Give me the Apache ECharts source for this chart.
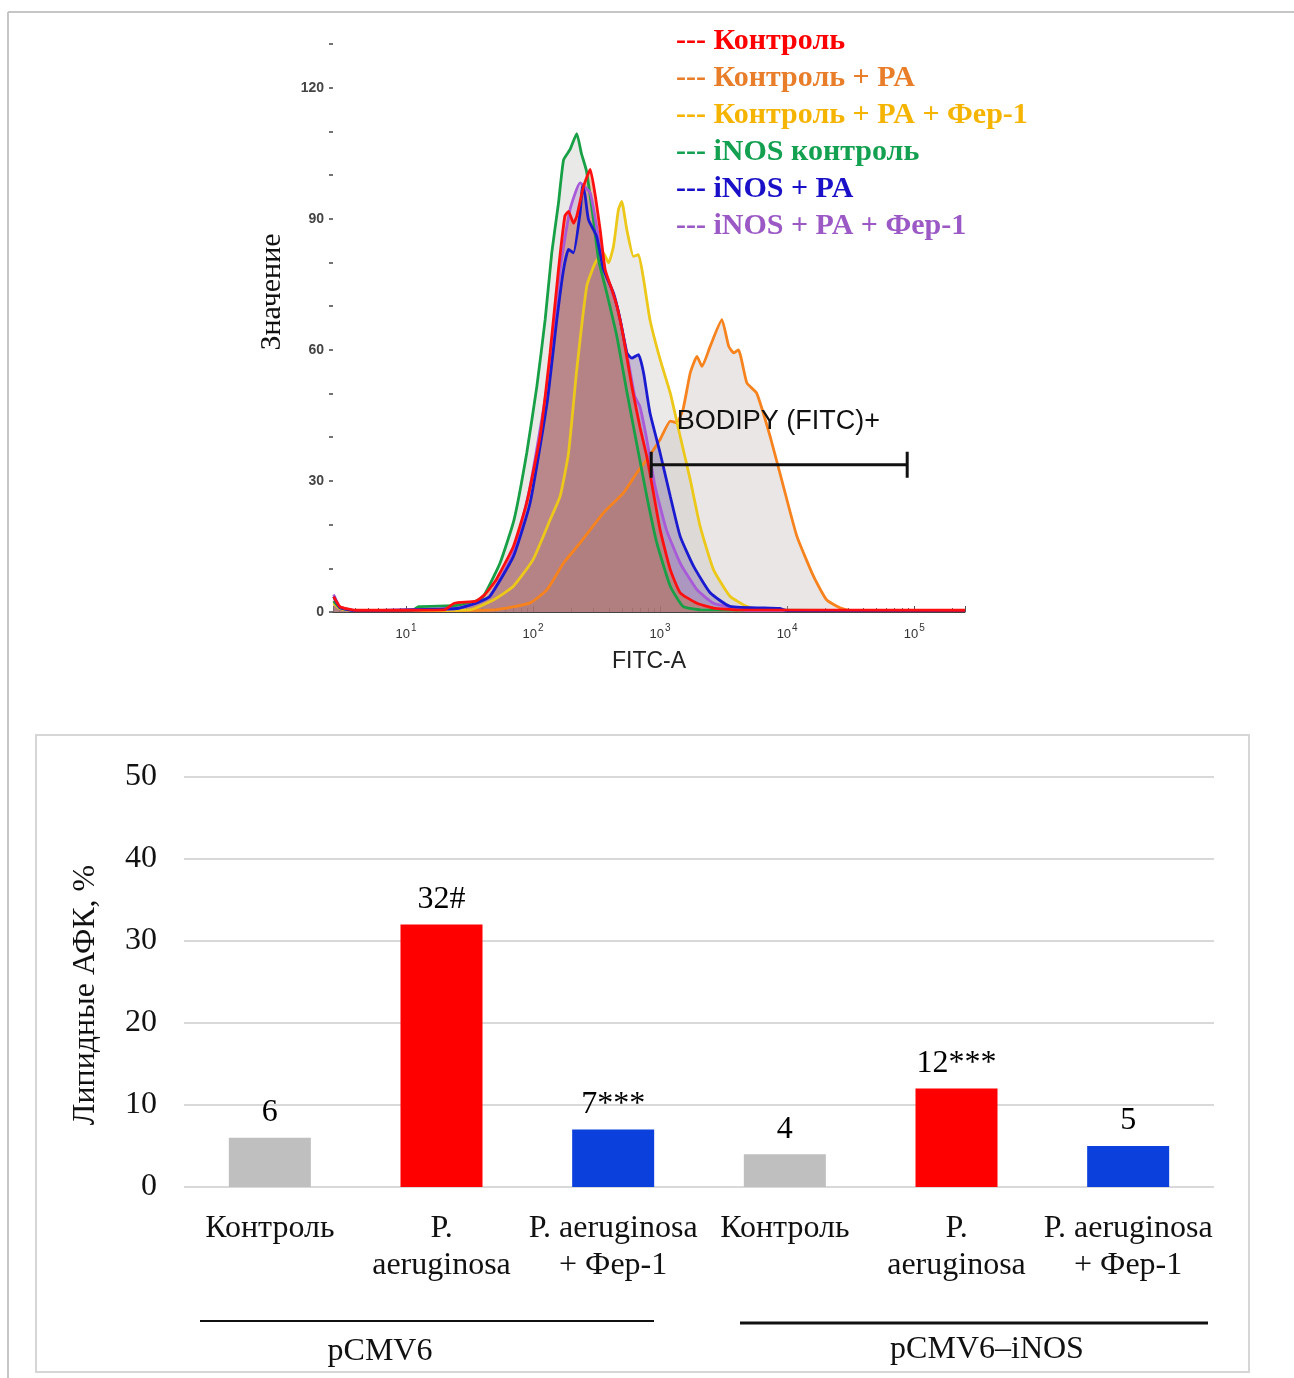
<!DOCTYPE html>
<html><head><meta charset="utf-8">
<script src="https://cdn.jsdelivr.net/npm/echarts@6/dist/echarts.min.js"></script>
<style>html,body{margin:0;padding:0;background:#fff}#c{width:1294px;height:1378px}</style>
</head><body><div id="c"></div>
<script>
// ---------- Histogram data (x as log10 exponent of FITC-A, y = count) ----------
const curveNames = ['Контроль', 'Контроль + PA', 'Контроль + PA + Фер-1', 'iNOS контроль', 'iNOS + PA', 'iNOS + PA + Фер-1'];
const curveLegendColors = ['#ff0000', '#e87d2a', '#f5b400', '#13a050', '#1a10c8', '#9b59c6'];
const curveLineColors = ['#ff1010', '#f7831f', '#ecc81a', '#17a046', '#1a1ad0', '#a85ad8'];
const curveFillColors = ['rgba(200,100,40,0.55)', 'rgba(195,185,182,0.5)', 'rgba(195,190,185,0.45)', 'rgba(185,185,180,0.45)', 'rgba(85,60,150,0.38)', 'rgba(150,95,185,0.38)'];

const controlCurve = [[0.43,3.5],[0.48,1.2],[0.6,0.4],[1.3,0.5],[1.38,2],[1.55,2.5],[1.62,4],[1.71,7.4],[1.845,15],[1.95,25],[2.055,40.2],[2.134,59.3],[2.20,78.4],[2.25,90.6],[2.279,91.7],[2.318,89],[2.344,90.6],[2.397,97.4],[2.45,101.3],[2.49,95.2],[2.528,87.5],[2.567,78.4],[2.62,73.8],[2.66,70],[2.71,63.1],[2.777,51.7],[2.84,42.5],[2.895,35.6],[2.948,27.2],[3.0,18.8],[3.08,9.7],[3.158,4.4],[3.29,2],[3.42,0.9],[3.6,0.5],[5.4,0.4]];
const controlPaCurve = [[0.43,2.5],[0.48,0.8],[0.6,0.3],[1.7,0.5],[1.977,2.1],[2.11,5.1],[2.24,11.2],[2.37,15.8],[2.554,22.7],[2.71,27.2],[2.816,31.8],[2.895,34.9],[3.0,39.5],[3.08,43.7],[3.13,43.3],[3.18,46.3],[3.237,54.7],[3.29,58.5],[3.33,56.2],[3.394,60.8],[3.486,66.9],[3.54,60.8],[3.58,59.3],[3.617,60],[3.683,52.4],[3.76,50.1],[3.866,40.2],[3.97,28.8],[4.077,17.3],[4.207,8.2],[4.31,2.8],[4.42,0.9],[4.5,0.3],[5.4,0.3]];
const controlPaFerCurve = [[0.43,2],[0.48,0.8],[0.6,0.3],[1.5,0.5],[1.69,2.8],[1.845,5.9],[2.0,12],[2.134,21.1],[2.213,26.5],[2.279,36.4],[2.344,55.5],[2.423,74.6],[2.489,79.9],[2.554,82.2],[2.594,79.9],[2.633,83.7],[2.672,92.1],[2.698,94],[2.738,87.5],[2.79,81.4],[2.83,81.8],[2.87,76.1],[2.92,66.9],[3.0,57.8],[3.08,50.1],[3.158,40.2],[3.237,30.3],[3.315,19.6],[3.42,9.7],[3.55,3.6],[3.68,1.3],[3.8,0.3],[5.4,0.3]];
const inosControlCurve = [[0.43,2.5],[0.48,1],[0.6,0.3],[1.05,0.4],[1.1,1.2],[1.4,1.5],[1.55,2.5],[1.61,3.6],[1.74,11.2],[1.85,21.1],[1.95,36.4],[2.03,51.7],[2.095,66.9],[2.147,82.2],[2.20,93.6],[2.24,103.5],[2.29,105.8],[2.344,109.5],[2.38,105],[2.42,101],[2.475,89.8],[2.515,80.7],[2.58,73],[2.66,63],[2.74,50.1],[2.82,37.9],[2.895,26.5],[2.974,15.8],[3.08,5.9],[3.18,1.3],[3.32,0.5],[5.4,0.3]];
const inosPaCurve = [[0.43,3.5],[0.48,1],[0.6,0.3],[1.4,0.8],[1.55,2],[1.66,3.6],[1.845,12.7],[1.977,25],[2.11,47.8],[2.187,66.9],[2.24,78.4],[2.279,83],[2.318,82.2],[2.37,91.3],[2.39,97.5],[2.41,95.2],[2.436,89.8],[2.50,86],[2.554,78.4],[2.633,73],[2.685,67],[2.738,59.3],[2.777,58.1],[2.83,58.9],[2.87,54.7],[2.92,45.6],[3.0,36.4],[3.08,26.5],[3.158,17.3],[3.263,10.5],[3.394,4.4],[3.55,1.3],[3.94,0.8],[4.0,0.3],[5.4,0.3]];
const inosPaFerCurve = [[0.43,4],[0.48,1.2],[0.6,0.3],[1.4,0.8],[1.55,2],[1.66,3.6],[1.845,13.5],[1.977,28.8],[2.11,51.7],[2.213,78.4],[2.29,92],[2.37,98.2],[2.45,95.9],[2.50,88.3],[2.554,79.1],[2.607,74.6],[2.66,70],[2.738,59.3],[2.80,49.4],[2.84,47.1],[2.895,39.5],[2.96,28.8],[3.05,18.8],[3.158,11.2],[3.29,5.1],[3.42,2],[3.58,0.9],[3.7,0.3],[5.4,0.3]];
const curves = [controlCurve, controlPaCurve, controlPaFerCurve, inosControlCurve, inosPaCurve, inosPaFerCurve];
const drawOrder = [1, 2, 3, 5, 4, 0];

const histXTitle = 'FITC-A';
const histYTitle = 'Значение';
const histYTicks = [0, 30, 60, 90, 120];
const gateExp = [2.93, 4.945];
const gateLevel = 33.7;
const gateCap = 3;
const gateText = 'BODIPY (FITC)+';
const gateTextPos = [3.13, 43.5];

// ---------- Bar chart data ----------
const barCategories = ['Контроль', 'P.\naeruginosa', 'P. aeruginosa\n+ Фер-1', 'Контроль\u200b', 'P.\naeruginosa\u200b', 'P. aeruginosa\n+ Фер-1\u200b'];
const barValues = [6, 32, 7, 4, 12, 5];
const barMarks = ['', '#', '***', '', '***', ''];
const barColors = ['#bfbfbf', '#ff0000', '#0b40dc', '#bfbfbf', '#ff0000', '#0b40dc'];
const barYTitle = 'Липидные АФК, %';
const groupNames = ['pCMV6', 'pCMV6–iNOS'];

const serif = '"Liberation Serif", "Times New Roman", serif';
const sans = '"Liberation Sans", Arial, sans-serif';

const chart = echarts.init(document.getElementById('c'), null, { renderer: 'canvas' });

const histSeries = drawOrder.map(i => ({
  name: curveNames[i],
  type: 'line',
  xAxisIndex: 0, yAxisIndex: 0,
  data: curves[i].map(p => [Math.pow(10, p[0]), p[1]]),
  showSymbol: false,
  smooth: 0.15,
  lineStyle: { color: curveLineColors[i], width: 2.8 },
  itemStyle: { color: curveLegendColors[i] },
  areaStyle: { color: curveFillColors[i], origin: 'start' },
  silent: true,
  z: 2
}));

const gateSeries = {
  name: 'gate', type: 'line', xAxisIndex: 0, yAxisIndex: 0, silent: true, z: 5,
  showSymbol: false,
  lineStyle: { color: '#111', width: 3 },
  data: [[gateExp[0], gateLevel - gateCap], [gateExp[0], gateLevel + gateCap], [gateExp[0], gateLevel],
         [gateExp[1], gateLevel], [gateExp[1], gateLevel + gateCap], [gateExp[1], gateLevel - gateCap]]
         .map(p => [Math.pow(10, p[0]), p[1]]),
  markPoint: {
    silent: true, symbol: 'circle', symbolSize: 0,
    data: [{ coord: [Math.pow(10, gateTextPos[0]), gateTextPos[1]] }],
    label: { show: true, position: 'right', distance: 0, formatter: gateText, color: '#111', fontSize: 27, fontFamily: sans }
  }
};

const barFont = 32;
const barSeries = {
  name: 'bars', type: 'bar', xAxisIndex: 1, yAxisIndex: 1,
  barWidth: 82,
  data: barValues.map((v, i) => ({ value: v, itemStyle: { color: barColors[i] } })),
  label: { show: true, position: 'top', distance: 9, color: '#000', fontSize: barFont, fontFamily: serif,
           formatter: p => barValues[p.dataIndex] + barMarks[p.dataIndex] },
  silent: true
};

function isPow10(v) {
  const l = Math.log10(v);
  return Math.abs(l - Math.round(l)) < 1e-6;
}

chart.setOption({
  animation: false,
  backgroundColor: '#fff',
  legend: {
    orient: 'vertical', left: 666, top: 18,
    itemWidth: 0, itemHeight: 0, itemGap: 0, icon: 'rect',
    selectedMode: false,
    formatter: n => '--- ' + n,
    textStyle: { fontFamily: serif, fontWeight: 'bold', fontSize: 30, lineHeight: 37 },
    data: curveNames.map((n, i) => ({ name: n, textStyle: { color: curveLegendColors[i] } }))
  },
  grid: [
    { left: 333, right: 329, top: 44, bottom: 766 },
    { left: 184, right: 80, top: 777, bottom: 191 }
  ],
  xAxis: [
    {
      type: 'log', logBase: 10, gridIndex: 0,
      min: Math.pow(10, 0.425), max: Math.pow(10, 5.4),
      name: histXTitle, nameLocation: 'middle', nameGap: 38,
      nameTextStyle: { fontFamily: sans, fontSize: 23, color: '#222' },
      axisLine: { show: true, lineStyle: { color: '#444', width: 1 } },
      axisTick: { show: true, inside: true, length: 6, lineStyle: { color: '#555' } },
      minorTick: { show: true, splitNumber: 9, length: 4, lineStyle: { color: '#666' } },
      splitLine: { show: false },
      axisLabel: {
        margin: 11, showMinLabel: false, showMaxLabel: false,
        formatter: v => isPow10(v) ? '{b|10}{s|' + Math.round(Math.log10(v)) + '}' : '',
        rich: {
          b: { fontFamily: sans, fontSize: 13, color: '#333', lineHeight: 18, verticalAlign: 'bottom' },
          s: { fontFamily: sans, fontSize: 10, color: '#333', lineHeight: 18, verticalAlign: 'top', padding: [0, 0, 0, 1] }
        }
      }
    },
    {
      type: 'category', gridIndex: 1, data: barCategories,
      axisLine: { show: false }, axisTick: { show: false },
      axisLabel: { interval: 0, margin: 23, fontFamily: serif, fontSize: barFont, color: '#111', lineHeight: 37 }
    }
  ],
  yAxis: [
    {
      type: 'value', gridIndex: 0, min: 0, max: 130, interval: 10,
      name: histYTitle, nameLocation: 'middle', nameGap: 46,
      nameTextStyle: { fontFamily: serif, fontSize: 30, color: '#111', padding: [0, 0, 0, 72] },
      axisLine: { show: false },
      axisTick: { show: true, length: 4, lineStyle: { color: '#444', width: 1.5 } },
      splitLine: { show: false },
      axisLabel: {
        margin: 9, fontFamily: sans, fontSize: 14, fontWeight: 'bold', color: '#444',
        formatter: v => histYTicks.indexOf(v) >= 0 ? String(v) : ''
      }
    },
    {
      type: 'value', gridIndex: 1, min: 0, max: 50, interval: 10,
      name: barYTitle, nameLocation: 'middle', nameGap: 82,
      nameTextStyle: { fontFamily: serif, fontSize: barFont, color: '#111', padding: [0, 26, 0, 0] },
      axisLine: { show: false }, axisTick: { show: false },
      splitLine: { show: true, lineStyle: { color: '#d9d9d9', width: 2 } },
      axisLabel: { margin: 27, fontFamily: serif, fontSize: barFont, color: '#111' }
    }
  ],
  graphic: [
    { type: 'line', shape: { x1: 8, y1: 12, x2: 1294, y2: 12 }, style: { stroke: '#c6c6c6', lineWidth: 2 }, silent: true },
    { type: 'line', shape: { x1: 8, y1: 12, x2: 8, y2: 1378 }, style: { stroke: '#c6c6c6', lineWidth: 2 }, silent: true },
    { type: 'rect', shape: { x: 36, y: 735, width: 1213, height: 637 }, style: { fill: 'none', stroke: '#d6d6d6', lineWidth: 2 }, silent: true },
    { type: 'line', shape: { x1: 200, y1: 1321, x2: 654, y2: 1321 }, style: { stroke: '#111', lineWidth: 2 }, silent: true },
    { type: 'line', shape: { x1: 740, y1: 1323, x2: 1208, y2: 1323 }, style: { stroke: '#111', lineWidth: 3 }, silent: true },
    { type: 'text', x: 380, y: 1352, style: { text: groupNames[0], fontFamily: serif, fontSize: barFont, fill: '#111', align: 'center', verticalAlign: 'middle' }, silent: true },
    { type: 'text', x: 987, y: 1350, style: { text: groupNames[1], fontFamily: serif, fontSize: barFont, fill: '#111', align: 'center', verticalAlign: 'middle' }, silent: true }
  ],
  series: histSeries.concat([gateSeries, barSeries])
});
</script>
</body></html>
